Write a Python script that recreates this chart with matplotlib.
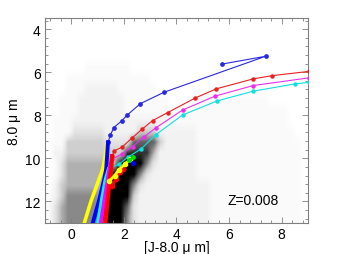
import numpy as np
import matplotlib
matplotlib.use('Agg')
import matplotlib.pyplot as plt
from matplotlib.colors import PowerNorm
from matplotlib.ticker import MultipleLocator

plt.rcParams['font.family'] = ['Liberation Sans', 'DejaVu Sans']

# star counts, 0 (none) .. 9 (solid black)
# columns: 0.25 mag wide from -1 to 9, rows: 0.5 mag tall from 3.5 to 13
density_rows = [
    "0000000000 0000000000 0000000000 0000000000",
    "0000000000 0000000000 0000000000 0000000000",
    "0000000000 0000000000 0000000000 0000000000",
    "0000000000 0000000000 0000000000 0000000000",
    "0000001111 1110000000 0000000000 0000000000",
    "0001111111 1111110000 0000000000 0000000000",
    "0001112222 2111111000 0000000000 0000000000",
    "0011122222 2211111110 0011111111 1111000000",
    "0011122222 2211111110 0011111111 1111111000",
    "0111222222 2222222211 1111111111 1111111000",
    "0111333332 2222444222 2221111111 1111111100",
    "0114444443 3337777422 2221111111 1111111110",
    "0224444444 4488885222 2221111111 1111111110",
    "0135555555 5999963222 2221111111 1111111110",
    "0135555555 9999632222 2221111111 1111111110",
    "0245555559 9996322222 2222211111 1111111110",
    "1246666659 9994222222 2222211111 1111111110",
    "1356666669 9973222222 2222211111 1111111110",
    "1356666679 9963222222 2222211111 1111111110",
]

# model tracks: steep lower part (thick) and the bright part with points
yellow_x = [0.50, 0.75, 1.05, 1.20, 1.36]
yellow_y = [13.0, 12.0, 11.0, 10.5, 9.40]
yellow2_x = [1.45, 1.65, 1.80, 2.05, 2.25]
yellow2_y = [11.05, 10.80, 10.55, 10.25, 10.05]

blue_x = [0.82, 1.05, 1.25, 1.33, 1.40]
blue_y = [13.0, 12.0, 11.0, 10.5, 9.25]
blue_top_x = [1.40, 1.49, 1.62, 1.92, 2.12, 2.63, 3.53, 7.39, 5.74]
blue_top_y = [9.25, 8.92, 8.57, 8.26, 8.00, 7.46, 6.93, 5.26, 5.62]

cyan_x = [1.02, 1.15, 1.30, 1.42]
cyan_y = [13.0, 12.0, 11.0, 10.5]
cyan_top_x = [1.42, 1.83, 2.15, 2.65, 3.22, 4.23, 5.53, 6.92, 8.52, 9.05]
cyan_top_y = [10.50, 10.26, 9.95, 9.57, 8.90, 7.99, 7.34, 6.88, 6.54, 6.47]

magenta_x = [1.12, 1.25, 1.38, 1.45, 1.55]
magenta_y = [13.0, 12.0, 11.0, 10.5, 10.05]
magenta_top_x = [1.55, 1.92, 2.33, 2.75, 3.22, 4.23, 5.47, 6.92, 9.05]
magenta_top_y = [10.05, 9.80, 9.46, 9.02, 8.58, 7.76, 7.11, 6.62, 6.26]

red_x = [1.30, 1.38, 1.46, 1.52, 1.55]
red_y = [13.0, 12.0, 11.0, 10.5, 9.90]
red2_x = [1.55, 1.70, 1.85, 1.95]
red2_y = [11.3, 10.95, 10.65, 10.5]
red_top_x = [1.55, 1.64, 1.92, 2.31, 2.69, 3.09, 3.66, 4.71, 5.52, 6.92, 7.64, 9.05]
red_top_y = [9.90, 9.65, 9.49, 9.06, 8.65, 8.25, 7.88, 7.20, 6.77, 6.31, 6.16, 5.96]

green_x = [2.20, 2.36]
green_y = [10.10, 9.93]
blue2_x = [2.33]
blue2_y = [10.20]

dens = np.array([[int(c) for c in "".join(r.split())] for r in density_rows])

fig = plt.figure(figsize=(3.4, 2.55), dpi=100)
ax = fig.add_axes([0.132, 0.122, 0.774, 0.802])

ax.imshow(dens, extent=[-1, 9, 13, 3.5], origin='upper', aspect='auto',
          cmap='Greys', norm=PowerNorm(1.5, vmin=0, vmax=9),
          interpolation='bilinear', zorder=0)

# thin upper parts with points
ax.plot(cyan_top_x, cyan_top_y, '-o', color='#10e0e0', lw=0.8, ms=2.2, zorder=3)
ax.plot(magenta_top_x, magenta_top_y, '-o', color='#e830e8', lw=0.8, ms=2.2, zorder=3)
ax.plot(red_top_x, red_top_y, '-o', color='#e82020', lw=0.8, ms=2.2, zorder=3)
ax.plot(blue_top_x, blue_top_y, '-o', color='#2828e0', lw=0.8, ms=2.4, zorder=3)

# thick lower parts
ax.plot(yellow_x, yellow_y, '-', color='#ffff00', lw=2.6, zorder=4)
ax.plot(yellow2_x, yellow2_y, '-o', color='#ffff00', lw=2.0, ms=3, zorder=5)
ax.plot(blue_x, blue_y, '-', color='#0000ff', lw=2.8, zorder=4)
ax.plot(cyan_x, cyan_y, '-', color='#00ffff', lw=2.6, zorder=4)
ax.plot(magenta_x, magenta_y, '-', color='#ff00ff', lw=2.6, zorder=4)
ax.plot(red_x, red_y, '-', color='#ff0000', lw=3.0, zorder=4)
ax.plot(red2_x, red2_y, '-o', color='#ff0000', lw=2.2, ms=3, zorder=4)
ax.plot(green_x, green_y, '-o', color='#00e000', lw=1.2, ms=2.5, zorder=5)
ax.plot(blue2_x, blue2_y, 'o', color='#0000ff', ms=2.5, zorder=5)

ax.text(5.95, 11.95, 'Z=0.008', fontsize=10, ha='left', va='center')

ax.set_xlim(-1, 9)
ax.set_ylim(13, 3.5)
ax.set_xticks([0, 2, 4, 6, 8])
ax.set_yticks([4, 6, 8, 10, 12])
ax.xaxis.set_minor_locator(MultipleLocator(0.4))
ax.yaxis.set_minor_locator(MultipleLocator(0.4))
ax.tick_params(which='both', direction='in', top=True, right=True,
               color='#808080', width=0.6, labelsize=10, pad=3)
ax.tick_params(which='major', length=4)
ax.tick_params(which='minor', length=2)
for s in ax.spines.values():
    s.set_color('#808080')
    s.set_linewidth(0.8)

ax.set_xlabel('[J-8.0 μ m]', fontsize=10, labelpad=-0.5)
ax.set_ylabel('8.0 μ m', fontsize=10, labelpad=3)

fig.savefig('out.png', dpi=100)
